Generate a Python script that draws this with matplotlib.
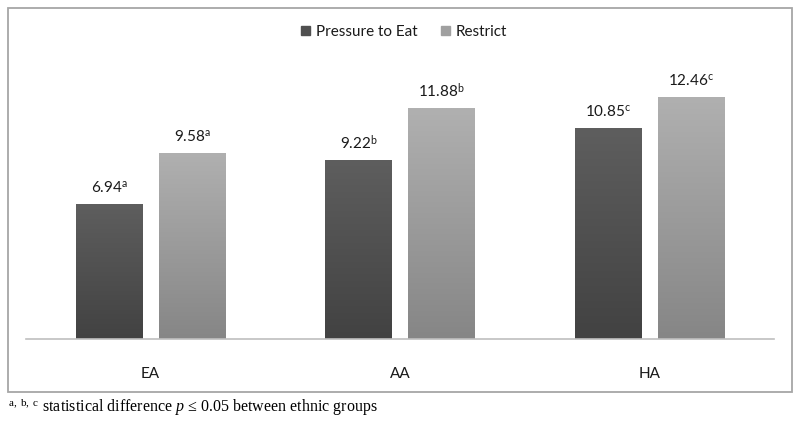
import numpy as np
import matplotlib.pyplot as plt
from matplotlib.patches import Rectangle

# data
groups = ['EA', 'AA', 'HA']
pressure = [6.94, 9.22, 10.85]
restrict = [9.58, 11.88, 12.46]
sup_p = ['a', 'b', 'c']
sup_r = ['a', 'b', 'c']
series = ['Pressure to Eat', 'Restrict']

plt.rcParams['mathtext.fontset'] = 'custom'
plt.rcParams['mathtext.rm'] = 'Liberation Serif'
plt.rcParams['mathtext.it'] = 'Liberation Serif:italic'
plt.rcParams['mathtext.sf'] = 'Lato'
lab_font = ['Lato', 'DejaVu Sans']

W, H = 800, 423
fig = plt.figure(figsize=(8, 4.23), dpi=100)
ax = fig.add_axes([26 / W, (H - 339) / H, 748 / W, (339 - 67) / H])

x = np.arange(len(groups))
bw = 0.265
off = 0.1665
b1 = ax.bar(x - off, pressure, bw, color='#505050', label=series[0])
b2 = ax.bar(x + off, restrict, bw, color='#a0a0a0', label=series[1])

# vertical gradient fill for each bar
def shade(bars, top, bot):
    grad = np.linspace(0, 1, 100).reshape(-1, 1)
    c0 = np.array(plt.matplotlib.colors.to_rgb(top))
    c1 = np.array(plt.matplotlib.colors.to_rgb(bot))
    img = c1 + (c0 - c1) * grad[:, :, None]
    for b in bars:
        x0, y0 = b.get_x(), b.get_y()
        im = ax.imshow(img, extent=[x0, x0 + b.get_width(), y0, y0 + b.get_height()],
                       origin='lower', aspect='auto', zorder=b.get_zorder(), interpolation='bilinear')
        im.set_clip_path(b)
        b.set_alpha(0)

shade(b1, '#5e5e5e', '#424242')
shade(b2, '#b0b0b0', '#868686')

for i in range(len(groups)):
    ax.text(x[i] - off, pressure[i] + 0.85, f'{pressure[i]:.2f}' + r'$^{\mathsf{%s}}$' % sup_p[i],
            ha='center', va='center', fontsize=11, family=lab_font, color='#1a1a1a')
    ax.text(x[i] + off, restrict[i] + 0.85, f'{restrict[i]:.2f}' + r'$^{\mathsf{%s}}$' % sup_r[i],
            ha='center', va='center', fontsize=11, family=lab_font, color='#1a1a1a')

ax.set_xlim(-0.5, len(groups) - 0.5)
ax.set_ylim(0, 14)
ax.set_xticks(x)
ax.set_xticklabels(groups, family=lab_font, fontsize=11, color='#1a1a1a')
ax.tick_params(axis='x', length=0, pad=20)
ax.set_yticks([])
for s in ['top', 'right', 'left']:
    ax.spines[s].set_visible(False)
ax.spines['bottom'].set_color('#bfbfbf')
ax.spines['bottom'].set_linewidth(1.2)

leg = fig.legend(handles=[Rectangle((0, 0), 1, 1, color='#505050'),
                          Rectangle((0, 0), 1, 1, color='#a0a0a0')],
                 labels=series, loc='center', bbox_to_anchor=(404 / W, 1 - 32 / H),
                 ncol=2, frameon=False, handlelength=0.6, handleheight=0.6,
                 handletextpad=0.4, columnspacing=1.5, prop={'family': lab_font, 'size': 11})
for t in leg.get_texts():
    t.set_color('#1a1a1a')

# outer chart border
fig.patches.append(Rectangle((8 / W, 1 - 392 / H), 784 / W, 384 / H, transform=fig.transFigure,
                             fill=False, edgecolor='#a6a6a6', linewidth=1.3))

fig.text(8 / W, 1 - 407 / H,
         r'$^{\mathrm{a,\ b,\ c}}$ statistical difference $p$ ≤ 0.05 between ethnic groups',
         family='Liberation Serif', fontsize=11.5, va='center', ha='left')

fig.savefig('out.png', dpi=100)
